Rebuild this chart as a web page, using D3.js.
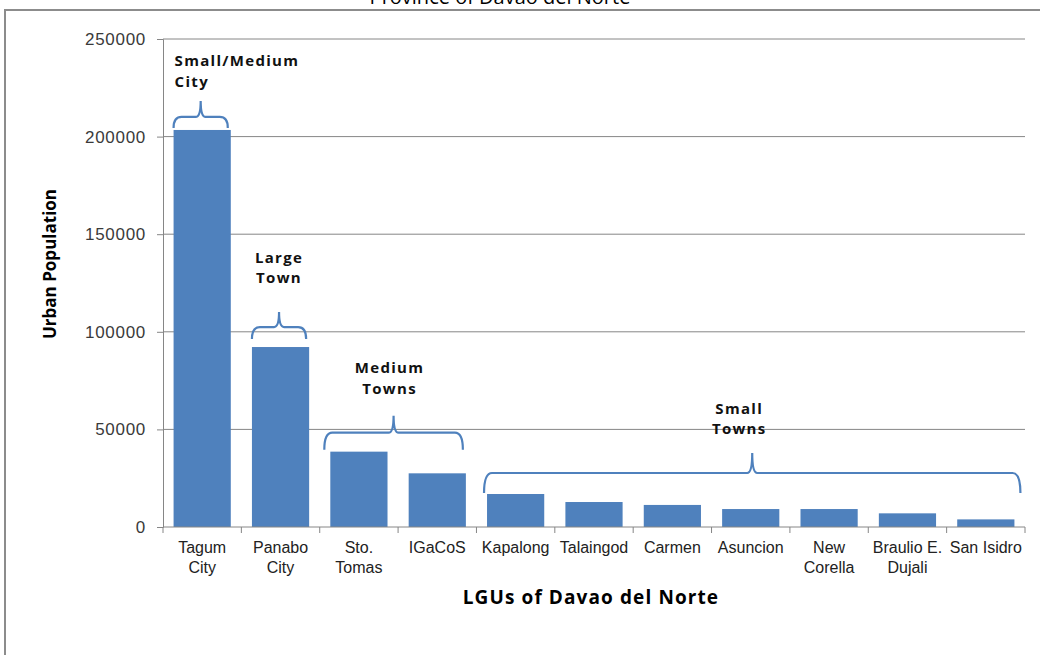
<!DOCTYPE html>
<html>
<head>
<meta charset="utf-8">
<script src="https://cdn.jsdelivr.net/npm/d3@7"></script>
<style>
  body { margin: 0; background: #fff; }
  svg { display: block; }
</style>
</head>
<body>
<svg id="chart" width="1040" height="655"></svg>
<script>
// data
let categories = ['Tagum\nCity', 'Panabo\nCity', 'Sto.\nTomas', 'IGaCoS', 'Kapalong', 'Talaingod',
                  'Carmen', 'Asuncion', 'New\nCorella', 'Braulio E.\nDujali', 'San Isidro'];
let population = [203400, 92200, 38600, 27500, 16900, 12800, 11300, 9200, 9200, 7000, 3900];
let yTicks = [0, 50000, 100000, 150000, 200000, 250000];

// groups shown with braces (first/last category index)
let groupNames = [['Small/Medium', 'City'], ['Large', 'Town'], ['Medium', 'Towns'], ['Small', 'Towns']];
let groupFirst = [0, 1, 2, 4];
let groupLast = [0, 1, 3, 10];

// brace layout (pixels), kept apart from the data
let braceGap = [2, 8, 2, 1];
let braceDepth = [11, 12, 17, 20];
let braceTip = [16, 15, 17, 20];
let braceLeft = [0, 0, -6, -3];
let braceRight = [-3, -3, -3, 6];
let labelRise = [14, 29, 22, 19];
let labelShift = [0, 0, -4, -13];

let width = 1040, height = 655;
let margin = {top: 39, right: 15, bottom: 128, left: 163};
let blue = '#4f81bd';
let gray = '#868686';

let svg = d3.select('#chart');

// outer chart frame + clipped title
svg.append('path')
    .attr('d', 'M5,655 L5,10 L1040,10')
    .attr('fill', 'none')
    .attr('stroke', '#8c8c8c')
    .attr('stroke-width', 2);

svg.append('text')
    .attr('x', 500)
    .attr('y', 4)
    .attr('text-anchor', 'middle')
    .style('font-family', 'Open Sans, sans-serif')
    .style('font-size', '20px')
    .text('Province of Davao del Norte');

let x = d3.scaleBand()
    .domain(categories)
    .range([margin.left, width - margin.right])
    .paddingInner(0.27)
    .paddingOuter(0.135);

let y = d3.scaleLinear()
    .domain([0, 250000])
    .range([height - margin.bottom, margin.top]);

// gridlines
svg.append('g')
    .selectAll('line')
    .data(yTicks.slice(1))
    .enter()
    .append('line')
    .attr('x1', margin.left)
    .attr('x2', width - margin.right)
    .attr('y1', d => y(d))
    .attr('y2', d => y(d))
    .attr('stroke', gray)
    .attr('stroke-width', 1);

// y axis
let yAxis = svg.append('g')
    .attr('transform', 'translate(' + margin.left + ',0)')
    .call(d3.axisLeft(y).tickValues(yTicks).tickSize(6).tickPadding(10).tickFormat(d => d));
yAxis.select('.domain').attr('stroke', gray);
yAxis.selectAll('.tick line').attr('stroke', gray);
yAxis.selectAll('text')
    .attr('fill', '#3a3a3a')
    .attr('dx', '-1px')
    .style('font-family', 'Liberation Sans, Arial, sans-serif')
    .style('font-size', '17px')
    .style('letter-spacing', '0.7px');

// bars
svg.append('g')
    .selectAll('rect')
    .data(population)
    .enter()
    .append('rect')
    .attr('x', (d, i) => x(categories[i]))
    .attr('width', x.bandwidth())
    .attr('y', d => y(d))
    .attr('height', d => y(0) - y(d))
    .attr('fill', blue);

// x axis line and ticks at the band boundaries
let gap = (x.step() - x.bandwidth()) / 2;
let bounds = categories.map(c => x(c) - gap).concat([width - margin.right]);
svg.append('line')
    .attr('x1', margin.left)
    .attr('x2', width - margin.right)
    .attr('y1', y(0))
    .attr('y2', y(0))
    .attr('stroke', gray);
svg.append('g')
    .selectAll('line')
    .data(bounds)
    .enter()
    .append('line')
    .attr('x1', d => d)
    .attr('x2', d => d)
    .attr('y1', y(0))
    .attr('y2', y(0) + 6)
    .attr('stroke', gray);

// category labels
let labels = svg.append('g')
    .selectAll('text')
    .data(categories)
    .enter()
    .append('text')
    .attr('x', d => x(d) + x.bandwidth() / 2)
    .attr('y', y(0) + 26)
    .attr('text-anchor', 'middle')
    .attr('fill', '#222')
    .style('font-family', 'Liberation Sans, Arial, sans-serif')
    .style('font-size', '16px');
labels.selectAll('tspan')
    .data(d => d.split('\n'))
    .enter()
    .append('tspan')
    .attr('x', function () { return d3.select(this.parentNode).attr('x'); })
    .attr('dy', (d, i) => i === 0 ? 0 : 19.5)
    .text(d => d);

// axis titles
svg.append('text')
    .attr('x', 591)
    .attr('y', 604)
    .attr('text-anchor', 'middle')
    .style('font-family', 'Open Sans, sans-serif')
    .style('font-weight', 'bold')
    .style('font-size', '19px')
    .style('letter-spacing', '1.1px')
    .text('LGUs of Davao del Norte');

svg.append('text')
    .attr('transform', 'translate(56,' + 264 + ') rotate(-90)')
    .attr('text-anchor', 'middle')
    .style('font-family', 'Open Sans, sans-serif')
    .style('font-weight', 'bold')
    .style('font-size', '17px')
    .text('Urban Population');

// braces with group labels
let brace = (x1, x2, xt, yb, depth, tip) => {
    let yh = yb - depth, yt = yh - tip, r = 8;
    return 'M' + x1 + ',' + yb +
        ' Q' + x1 + ',' + yh + ' ' + (x1 + r) + ',' + yh +
        ' L' + (xt - 5) + ',' + yh +
        ' Q' + xt + ',' + yh + ' ' + xt + ',' + yt +
        ' Q' + xt + ',' + yh + ' ' + (xt + 5) + ',' + yh +
        ' L' + (x2 - r) + ',' + yh +
        ' Q' + x2 + ',' + yh + ' ' + x2 + ',' + yb;
};

groupNames.forEach((lines, g) => {
    let x1 = x(categories[groupFirst[g]]) + braceLeft[g];
    let x2 = x(categories[groupLast[g]]) + x.bandwidth() + braceRight[g];
    let top = d3.max(population.slice(groupFirst[g], groupLast[g] + 1));
    let yb = y(top) - braceGap[g];
    let xt = (x1 + x2) / 2;
    let yt = yb - braceDepth[g] - braceTip[g];
    svg.append('path')
        .attr('d', brace(x1, x2, xt, yb, braceDepth[g], braceTip[g]))
        .attr('fill', 'none')
        .attr('stroke', blue)
        .attr('stroke-width', 2.2);

    let first = g === 0;
    let t = svg.append('text')
        .attr('x', first ? x1 + 1 : xt + labelShift[g])
        .attr('y', yt - labelRise[g] - 20.5)
        .attr('text-anchor', first ? 'start' : 'middle')
        .attr('fill', '#111')
        .style('font-family', 'Open Sans, sans-serif')
        .style('font-weight', 'bold')
        .style('font-size', '15px')
        .style('letter-spacing', '1.3px');
    lines.forEach((l, i) => {
        t.append('tspan')
            .attr('x', t.attr('x'))
            .attr('dy', i === 0 ? 0 : 20.5)
            .text(l);
    });
});
</script>
</body>
</html>
